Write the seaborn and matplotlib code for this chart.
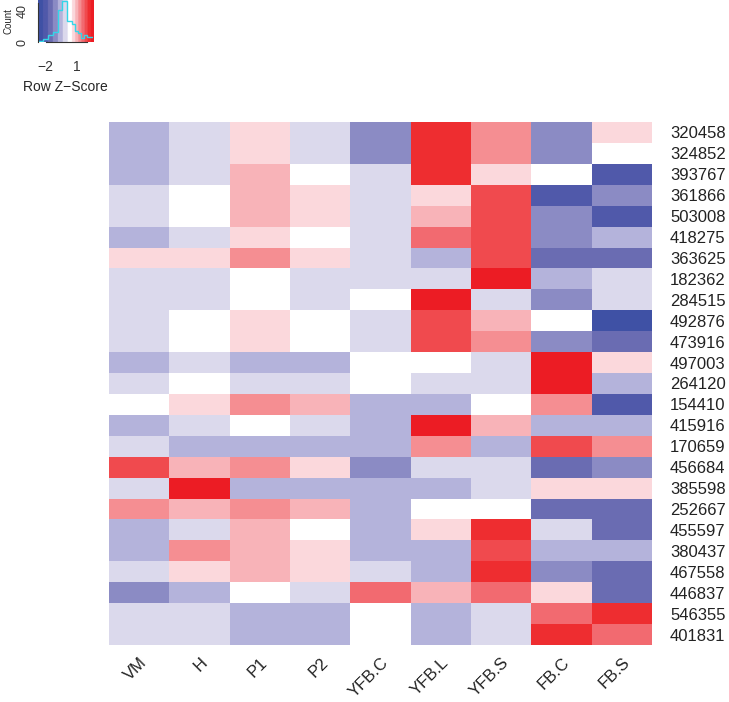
import numpy as np
import pandas as pd
import matplotlib
matplotlib.use('Agg')
import matplotlib.pyplot as plt
from matplotlib.colors import ListedColormap, BoundaryNorm
import seaborn as sns

sns.set_style("white")
plt.rcParams['font.family'] = ['Liberation Sans', 'DejaVu Sans']

# Row / column labels
genes = ['320458', '324852', '393767', '361866', '503008', '418275', '363625',
         '182362', '284515', '492876', '473916', '497003', '264120', '154410',
         '415916', '170659', '456684', '385598', '252667', '455597', '380437',
         '467558', '446837', '546355', '401831']
samples = ['VM', 'H', 'P1', 'P2', 'YFB.C', 'YFB.L', 'YFB.S', 'FB.C', 'FB.S']

# Row z-scores, one list per sample
vm = [-0.6, -0.6, -0.6, -0.15, -0.15, -0.6, 0.65, -0.15, -0.15, -0.15, -0.15, -0.6, -0.15,
      0.3, -0.6, -0.15, 1.85, -0.15, 1.25, -0.6, -0.6, -0.15, -1.1, -0.15, -0.15]
h = [-0.15, -0.15, -0.15, 0.3, 0.3, -0.15, 0.65, -0.15, -0.15, 0.3, 0.3, -0.15, 0.3,
     0.65, -0.15, -0.6, 0.95, 2.45, 0.95, -0.15, 1.25, 0.65, -0.6, -0.15, -0.15]
p1 = [0.65, 0.65, 0.95, 0.95, 0.95, 0.65, 1.25, 0.3, 0.3, 0.65, 0.65, -0.6, -0.15,
      1.25, 0.3, -0.6, 1.25, -0.6, 1.25, 0.95, 0.95, 0.95, 0.3, -0.6, -0.6]
p2 = [-0.15, -0.15, 0.3, 0.65, 0.65, 0.3, 0.65, -0.15, -0.15, 0.3, 0.3, -0.6, -0.15,
      0.95, -0.15, -0.6, 0.65, -0.6, 0.95, 0.3, 0.65, 0.65, -0.15, -0.6, -0.6]
yfb_c = [-1.1, -1.1, -0.15, -0.15, -0.15, -0.15, -0.15, -0.15, 0.3, -0.15, -0.15, 0.3, 0.3,
         -0.6, -0.6, -0.6, -1.1, -0.6, -0.6, -0.6, -0.6, -0.15, 1.55, 0.3, 0.3]
yfb_l = [2.15, 2.15, 2.15, 0.65, 0.95, 1.55, -0.6, -0.15, 2.45, 1.85, 1.85, 0.3, -0.15,
         -0.6, 2.45, 1.25, -0.15, -0.6, 0.3, 0.65, -0.6, -0.6, 0.95, -0.6, -0.6]
yfb_s = [1.25, 1.25, 0.65, 1.85, 1.85, 1.85, 1.85, 2.45, -0.15, 0.95, 1.25, -0.15, -0.15,
         0.3, 0.95, -0.6, -0.15, -0.15, 0.3, 2.15, 1.85, 2.15, 1.55, -0.15, -0.15]
fb_c = [-1.1, -1.1, 0.3, -2.0, -1.1, -1.1, -1.55, -0.6, -1.1, 0.3, -1.1, 2.45, 2.45,
        1.25, -0.6, 1.85, -1.55, 0.65, -1.55, -0.15, -0.6, -1.1, 0.65, 1.55, 2.15]
fb_s = [0.65, 0.3, -2.0, -1.1, -2.0, -0.6, -1.55, -0.15, -0.15, -2.5, -1.55, 0.65, -0.6,
        -2.0, -0.6, 1.25, -1.1, 0.65, -1.55, -1.55, -0.6, -1.55, -1.55, 2.15, 1.55]

# Colour breaks (blue - white - red)
breaks = [-2.74, -2.27, -1.8, -1.33, -0.86, -0.39, 0.08, 0.5,
          0.8, 1.09, 1.39, 1.69, 1.98, 2.28, 2.58]
colors = ['#3F51A5', '#5059AA', '#6A6CB2', '#8B8BC4', '#B4B3DB', '#DBD9EC', '#FFFFFF',
          '#FBD8DC', '#F8B3B8', '#F58E92', '#F26A70', '#F04A4E', '#EE2D30', '#EC1C24']

df = pd.DataFrame({'VM': vm, 'H': h, 'P1': p1, 'P2': p2, 'YFB.C': yfb_c,
                   'YFB.L': yfb_l, 'YFB.S': yfb_s, 'FB.C': fb_c, 'FB.S': fb_s},
                  index=genes)[samples]

cmap = ListedColormap(colors)
norm = BoundaryNorm(breaks, cmap.N)

fig = plt.figure(figsize=(7.29, 7.02), dpi=100)

# ── Main heatmap ─────────────────────────────────────────────
ax = fig.add_axes([109/729, 57/702, 543/729, 523/702])
sns.heatmap(df, cmap=cmap, norm=norm, cbar=False, ax=ax, linewidths=0)
ax.yaxis.tick_right()
ax.set_yticklabels(genes, rotation=0, fontsize=12, color='#222222')
ax.set_xticklabels(samples, rotation=45, ha='right', rotation_mode='anchor',
                   fontsize=12, color='#222222')
ax.tick_params(axis='y', length=0, pad=13)
ax.tick_params(axis='x', length=0, pad=7)
for s in ax.spines.values():
    s.set_visible(False)

# ── Colour key with histogram ────────────────────────────────
kax = fig.add_axes([38/729, 660/702, 55.3/729, 42/702])
grad = np.linspace(breaks[0], breaks[-1], 400).reshape(1, -1)
kax.imshow(grad, cmap=cmap, norm=norm, aspect='auto',
           extent=[breaks[0], breaks[-1], 0, 54.5], origin='lower')
counts, edges = np.histogram(df.values.ravel(), bins=breaks)
kax.stairs(counts, edges, baseline=None, color='#33D6E8', linewidth=1.0)
kax.set_xlim(breaks[0], breaks[-1])
kax.set_ylim(0, 54.5)
kax.set_xticks([-2, -1, 0, 1, 2])
kax.set_xticklabels(['\u22122', '', '', '1', ''], fontsize=10)
kax.set_yticks([0, 10, 20, 30, 40, 50])
kax.set_yticklabels(['0', '', '', '', '40', ''], fontsize=9, rotation=90, va='center')
kax.tick_params(axis='both', direction='out', length=5, width=0.8, colors='#333333')
kax.tick_params(axis='x', pad=8)
kax.tick_params(axis='y', pad=2)
for side in ['top', 'right']:
    kax.spines[side].set_visible(False)
kax.spines['bottom'].set_bounds(-2, 2)
kax.spines['left'].set_bounds(0, 50)
for side in ['bottom', 'left']:
    kax.spines[side].set_color('#333333')
    kax.spines[side].set_linewidth(0.8)
kax.set_xlabel('Row Z\u2212Score', fontsize=10, labelpad=4)
kax.set_ylabel('Count', fontsize=7, labelpad=2)

plt.savefig('out.png', dpi=100)
